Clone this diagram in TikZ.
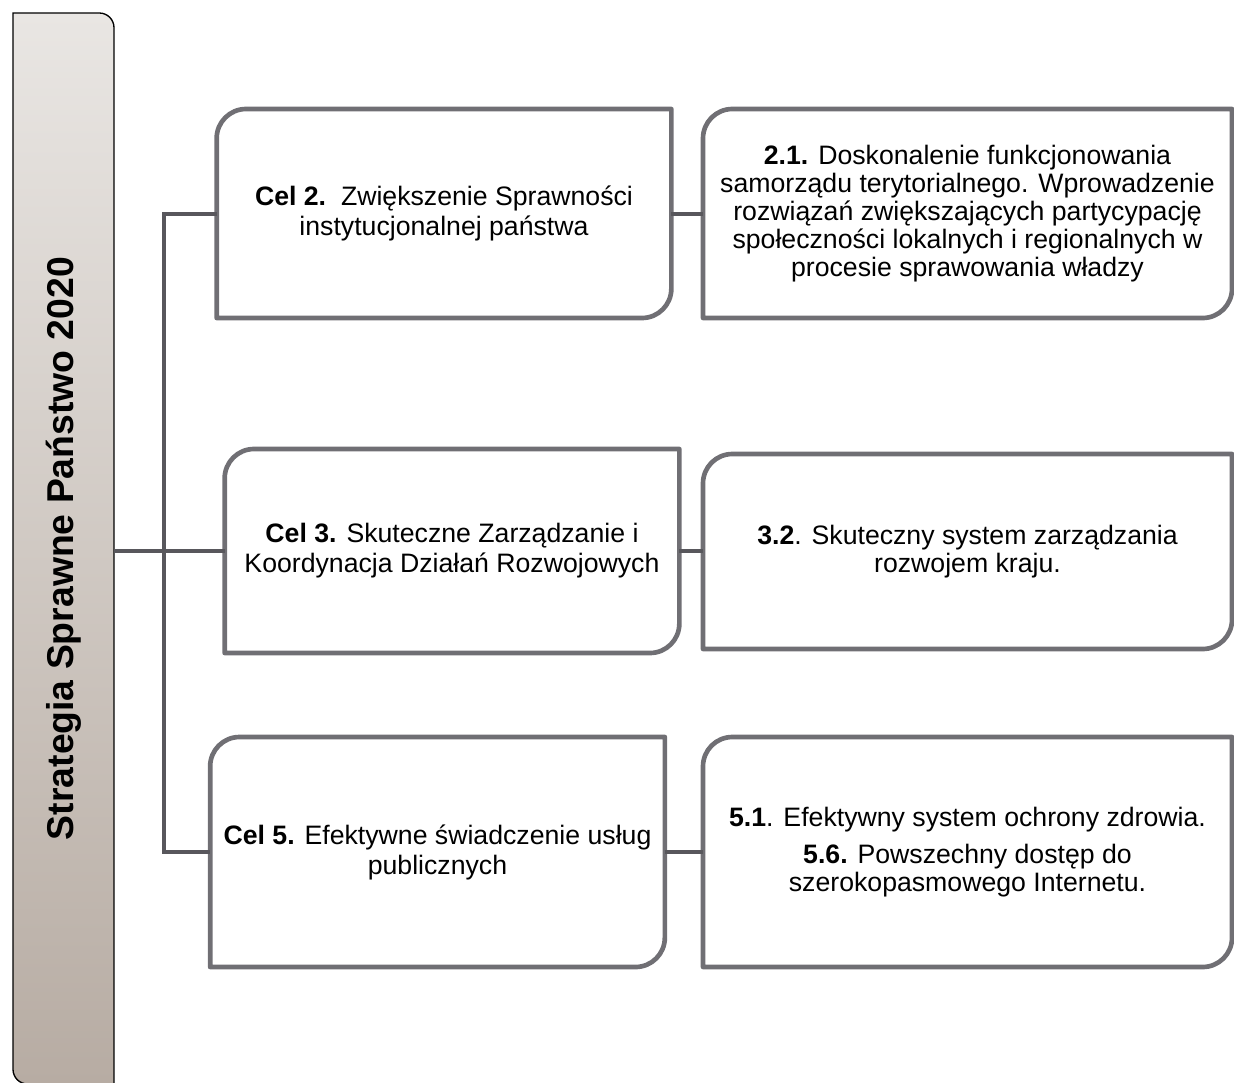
\documentclass[tikz,border=0pt]{standalone}
\usepackage{fontspec}
\setmainfont{Liberation Sans}
\usetikzlibrary{calc,backgrounds}

\definecolor{boxgray}{RGB}{112,111,116}
\definecolor{linegray}{RGB}{88,87,92}
\definecolor{bartop}{RGB}{233,230,227}
\definecolor{barbottom}{RGB}{183,172,163}

% box with rounded top left and bottom right corners
\newcommand{\goalshape}[1]{%
  \draw[boxline] (#1.south west) -- ($(#1.north west)+(0pt,-22pt)$)
    arc[start angle=180, end angle=90, radius=22pt] -- (#1.north east)
    -- ($(#1.south east)+(0pt,22pt)$)
    arc[start angle=0, end angle=-90, radius=22pt] -- cycle;}

\begin{document}
\begin{tikzpicture}[x=0.75pt, y=-0.75pt,
    goal/.style={minimum width=341pt, inner sep=0pt, outer sep=0pt, align=center, font=\fontsize{20}{22.5}\selectfont},
    task/.style={goal, minimum width=396.75pt, font=\fontsize{20}{21}\selectfont},
    boxline/.style={draw=boxgray, line width=3.5pt, line join=round},
    link/.style={draw=linegray, line width=3pt}]
    \useasboundingbox (0,0) rectangle (1234,1082);

    \node[minimum width=75.75pt, minimum height=803.25pt, inner sep=0pt, outer sep=0pt,
          font=\fontsize{28}{30}\selectfont\bfseries] (strat) at (63.5,548.5)
          {\rotatebox{90}{Strategia Sprawne Państwo 2020}};

    \node[goal, minimum height=156.75pt] (c2) at (444,213.5) {\textbf{Cel 2.}\ \ Zwiększenie Sprawności\\ instytucjonalnej państwa};
    \node[task, minimum height=156.75pt] (c21) at (967.5,213.5) {\textbf{2.1.} Doskonalenie funkcjonowania\\ samorządu terytorialnego. Wprowadzenie\\ rozwiązań zwiększających partycypację\\ społeczności lokalnych i regionalnych w\\ procesie sprawowania władzy};
    \node[goal, minimum height=153pt] (c3) at (452,551) {\textbf{Cel 3.} Skuteczne Zarządzanie i\\ Koordynacja Działań Rozwojowych};
    \node[task, minimum height=146.25pt] (c32) at (967.5,551.5) {\textbf{3.2}. Skuteczny system zarządzania\\ rozwojem kraju.};
    \node[goal, minimum height=172.5pt] (c5) at (437.5,852) {\textbf{Cel 5.} Efektywne świadczenie usług\\ publicznych};
    \node[task, minimum height=172.5pt] (c51) at (967.5,852) {\textbf{5.1}. Efektywny system ochrony zdrowia.\\[7pt] \textbf{5.6.} Powszechny dostęp do\\ szerokopasmowego Internetu.};

    \begin{scope}[on background layer]
        \draw[black, line width=1pt, top color=bartop, bottom color=barbottom]
            (strat.north west) -- ($(strat.north east)+(-11pt,0pt)$)
            arc[start angle=90, end angle=0, radius=11pt] -- (strat.south east)
            -- ($(strat.south west)+(11pt,0pt)$)
            arc[start angle=270, end angle=180, radius=11pt] -- cycle;
    \end{scope}

    \foreach \n in {c2,c21,c3,c32,c5,c51} {\goalshape{\n}}

    \coordinate (trunk) at (164,551);
    \draw[link] (strat.east |- c3.west) -- (c3.west);
    \draw[link] (c2.west) -- (c2.west -| trunk) -- (c5.west -| trunk) -- (c5.west);
    \draw[link] (c2.east) -- (c21.west);
    \draw[link] (c3.east) -- (c3.east -| c32.west);
    \draw[link] (c5.east) -- (c51.west);
\end{tikzpicture}
\end{document}
